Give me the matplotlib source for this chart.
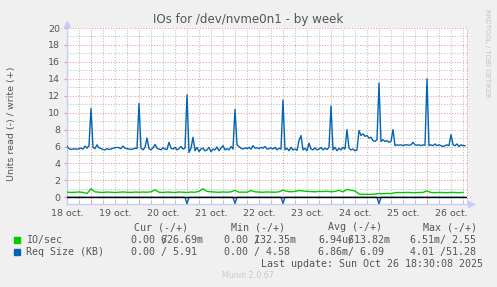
"""Munin disk IOs graph, weekly view."""
import matplotlib
matplotlib.use("Agg")
import matplotlib.pyplot as plt
import numpy as np

# hours counted from 18 oct 12:00, one sample per hour
day0 = [6.05, 5.75, 5.65, 5.7, 5.72, 5.68, 5.75, 5.8, 5.7, 6.05, 5.8, 6.1]
day1 = [10.5, 5.9, 5.75, 6.2, 5.85, 5.75, 5.65, 5.6, 5.75, 5.65, 5.7, 5.8,
        5.85, 5.9, 5.85, 5.75, 6.05, 5.8, 5.75, 5.7, 5.65, 5.7, 5.8, 5.75]
day2 = [11.1, 5.8, 5.6, 5.9, 7.0, 5.75, 5.6, 5.85, 6.25, 5.8, 5.7, 5.6,
        5.85, 5.7, 5.65, 6.5, 5.8, 5.7, 5.9, 5.6, 5.75, 6.0, 5.7, 5.8]
day3 = [12.1, 5.3, 5.8, 7.1, 5.5, 5.9, 5.4, 5.7, 5.8, 5.5, 5.6, 5.9,
        5.4, 5.7, 5.6, 5.95, 5.5, 5.8, 6.1, 5.6, 5.75, 5.6, 6.0, 5.7]
day4 = [10.4, 6.2, 6.0, 5.8, 5.7, 5.85, 5.75, 5.9, 5.7, 6.1, 5.8, 5.85,
        5.75, 5.9, 5.8, 6.0, 5.7, 5.75, 5.85, 5.7, 5.9, 5.6, 5.8, 5.7]
day5 = [11.5, 5.6, 5.8, 5.5, 5.9, 5.6, 5.7, 5.55, 6.7, 7.3, 5.6, 5.8,
        5.5, 6.4, 5.7, 5.6, 5.85, 5.6, 5.7, 5.9, 5.6, 5.8, 5.65, 5.9]
day6 = [10.8, 5.6, 5.9, 5.5, 5.8, 5.6, 5.9, 5.7, 8.0, 5.8, 5.6, 5.7,
        5.5, 5.6, 7.9, 7.3, 7.5, 7.2, 7.3, 7.0, 7.1, 6.7, 6.6, 6.8]
day7 = [13.5, 6.6, 6.8, 6.6, 6.7, 6.5, 6.6, 8.0, 6.1, 6.2, 6.15, 6.2,
        6.1, 6.2, 6.2, 6.15, 6.2, 6.5, 6.2, 6.15, 6.2, 6.1, 6.2, 6.15]
day8 = [14.0, 6.1, 6.2, 6.1, 6.3, 6.1, 6.2, 6.1, 6.0, 6.1, 6.2, 6.1,
        7.4, 6.2, 6.1, 6.3, 6.0, 6.2, 6.1, 6.1]
req_write = day0 + day1 + day2 + day3 + day4 + day5 + day6 + day7 + day8

# read side of request size: flat zero with a few dips
read_dip_hours = [60, 84, 108, 156]
read_dip_values = [0.75, 0.7, 0.7, 0.75]

# IO/sec write, one sample every 2 hours
io_write = [0.62, 0.58, 0.6, 0.63, 0.58, 0.45, 1.0,
            0.65, 0.6, 0.58, 0.62, 0.6, 0.57, 0.6, 0.63, 0.6, 0.58, 0.62,
            0.6, 0.63, 0.6, 0.65, 0.88,
            0.6, 0.58, 0.62, 0.6, 0.57, 0.63, 0.6, 0.58, 0.62, 0.6, 0.7, 1.0,
            0.7, 0.65, 0.62, 0.6, 0.63, 0.6, 0.65, 0.82,
            0.6, 0.62, 0.6, 0.8,
            0.65, 0.62, 0.6, 0.63, 0.62, 0.6, 0.65, 0.85,
            0.7, 0.65, 0.7, 0.8,
            0.75, 0.7, 0.68, 0.65, 0.7, 0.68, 0.72, 0.65, 0.7, 0.82, 0.65,
            0.95, 0.82, 0.75,
            0.38, 0.35, 0.36, 0.34, 0.38,
            0.45, 0.42, 0.46, 0.44,
            0.55, 0.57, 0.55, 0.58, 0.56, 0.55, 0.57, 0.58, 0.75,
            0.57, 0.55, 0.58, 0.56, 0.55, 0.58, 0.57, 0.55, 0.58]

day_labels = ["18 oct.", "19 oct.", "20 oct.", "21 oct.", "22 oct.",
              "23 oct.", "24 oct.", "25 oct.", "26 oct."]

legend_names = ["IO/sec", "Req Size (KB)"]
legend_cols = ["Cur (-/+)", "Min (-/+)", "Avg (-/+)", "Max (-/+)"]
io_stats = ["0.00 626.69m", "0.00 132.35m", "6.94u613.82m", "6.51m/ 2.55"]
req_stats = ["0.00 / 5.91", "0.00 / 4.58", "6.86m/ 6.09", "4.01 /51.28"]

GREEN = "#00cc00"
BLUE = "#0066b3"
BG = "#f0f0f0"
MAJOR = "#e89a9a"
MINOR = "#bdbdbd"
AXIS = "#c8ccf4"
TXT = "#555555"

W, H = 497, 287
fig = plt.figure(figsize=(W / 100, H / 100), dpi=100, facecolor=BG)
x0, x1, y0, y1 = 67, 467, 28, 204
ax = fig.add_axes([x0 / W, 1 - y1 / H, (x1 - x0) / W, (y1 - y0) / H])
ax.set_facecolor("white")
ax.set_xlim(0, 200)
ax.set_ylim(-0.79, 20)

dot = (0, (1, 1.6))
for h in range(6, 200, 6):
    major = (h - 12) % 24 == 0
    ax.axvline(h, color=MAJOR if major else MINOR, lw=0.75, ls=dot, zorder=1)
ax.axvline(200, color=MAJOR, lw=0.75, ls=dot, zorder=1, clip_on=False)
for v in range(1, 21):
    ax.axhline(v, color=MAJOR if v % 2 == 0 else MINOR, lw=0.75, ls=dot, zorder=1)

hours = np.arange(len(req_write))
req_read = np.zeros(len(req_write))
req_read[read_dip_hours] = read_dip_values
io_hours = np.arange(len(io_write)) * 2

ax.plot(hours, -req_read, color=BLUE, lw=1, zorder=3)
ax.axhline(0, color="black", lw=1, zorder=4)
ax.plot(io_hours, io_write, color=GREEN, lw=1, zorder=3)
ax.plot(hours, req_write, color=BLUE, lw=1, zorder=3)

for s in ["top", "right"]:
    ax.spines[s].set_visible(False)
for s in ["left", "bottom"]:
    ax.spines[s].set_color(AXIS)
    ax.spines[s].set_linewidth(1)
ax.plot([0], [1.025], marker="^", ms=4, color=AXIS, transform=ax.transAxes, clip_on=False)
ax.plot([1.01], [0], marker=">", ms=4, color=AXIS, transform=ax.transAxes, clip_on=False)

ax.set_yticks(range(0, 21, 2))
ax.tick_params(axis="y", length=2, color=MAJOR, labelsize=6.8, labelcolor=TXT, pad=3)
ax.set_xticks(range(12, 200, 24))
ax.set_xticks(range(6, 200, 6), minor=True)
ax.set_xticklabels([])
ax.tick_params(axis="x", which="major", direction="in", length=3, color=MAJOR)
ax.tick_params(axis="x", which="minor", direction="in", length=3, color=MINOR)
for i, lab in enumerate(day_labels):
    fig.text((x0 + 2 * 24 * i) / W, 1 - 213 / H, lab, ha="center", va="center",
             fontsize=6.8, color=TXT)

fig.text(248 / W, 1 - 19 / H, "IOs for /dev/nvme0n1 - by week", ha="center",
         va="center", fontsize=8.6, color=TXT)
fig.text(12 / W, 1 - 124 / H, "Units read (-) / write (+)", rotation=90,
         ha="center", va="center", fontsize=6.8, color=TXT)
fig.text(487 / W, 1 - 53 / H, "RRDTOOL / TOBI OETIKER", rotation=270,
         ha="center", va="center", fontsize=5.0, color="#c4c4c4")

mono = dict(family="DejaVu Sans Mono", fontsize=7.2, color=TXT, va="center")
col_x = [131, 224, 318, 410]
head_x = [134, 231, 328, 423]
for hx, name in zip(head_x, legend_cols):
    fig.text(hx / W, 1 - 227 / H, name, **mono)
for row, (name, color, stats) in enumerate(zip(legend_names, [GREEN, BLUE],
                                                 [io_stats, req_stats])):
    yy = 240 + 12 * row
    fig.patches.append(plt.Rectangle((14 / W, 1 - (yy + 3) / H), 6 / W, 6 / H,
                                     transform=fig.transFigure, color=color))
    fig.text(26 / W, 1 - yy / H, name, **mono)
    for cx, s in zip(col_x, stats):
        fig.text(cx / W, 1 - yy / H, s, **mono)
# rrdtool draws the separating slash over the following digit
for cx in [131, 224, 318]:
    fig.text((cx + 30) / W, 1 - 240 / H, "/", **mono)

fig.text(483 / W, 1 - 264 / H, "Last update: Sun Oct 26 18:30:08 2025",
         ha="right", **mono)
fig.text(248 / W, 1 - 276 / H, "Munin 2.0.67", ha="center", va="center",
         fontsize=5.8, color="#c8c8c8")

fig.savefig("out.png", dpi=100, facecolor=BG)
